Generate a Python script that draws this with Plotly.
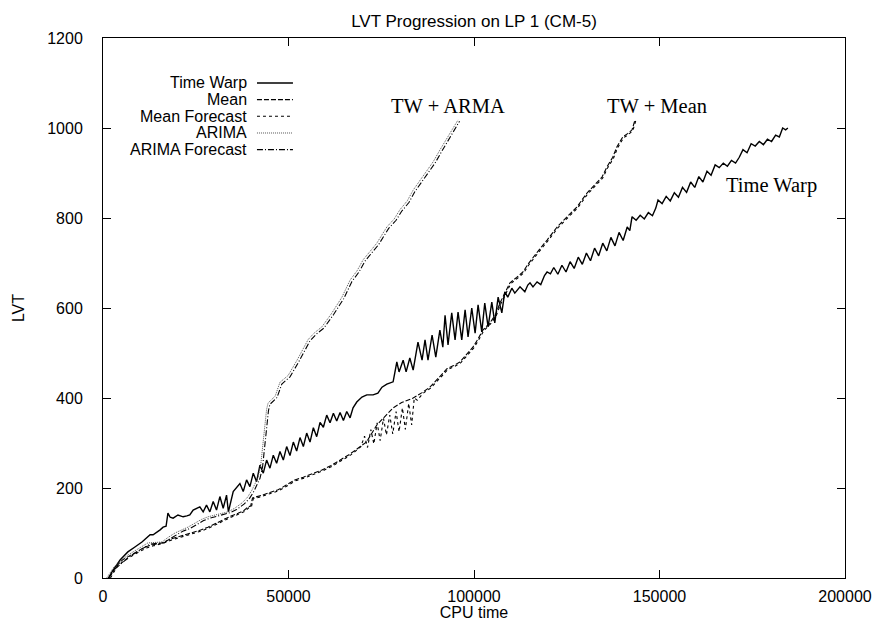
import plotly.graph_objects as go

# ---------------- data ----------------
tw_x = [1500, 2500, 4600, 6700, 8600, 10500, 12700, 13500, 15400, 16200, 17000, 17500, 18100, 18900,
        20200, 21600, 22600, 23400, 24300, 26100, 27000, 27900, 28800, 29700, 30600, 31500, 32400,
        33300, 33800, 35100, 36900, 37800, 38700, 39600, 40500, 41400, 42300, 43200, 44100, 45000,
        45900, 46800, 47700, 48600, 49500, 50400, 51300, 52200, 53100, 54000, 54900, 55800, 56700,
        57600, 58500, 59400, 60300, 61200, 62100, 63000, 63900, 64800, 65700, 66600, 67400, 68400,
        69800, 71100, 72800, 74100, 75200, 76500, 78200, 79200, 79800, 80900, 81700, 82700, 83600,
        84900, 86000, 86800, 87600, 88700, 89700, 90800, 91600, 92200, 93000, 94000, 94900, 95700,
        96700, 97600, 98400, 99400, 100300, 101100, 102100, 102900, 103800, 104800, 105600, 106500,
        107500, 108300, 109100, 110200, 111000, 112400, 113700, 114500, 115100, 115900, 117000,
        118000, 119000, 119700, 120600, 121500, 122600, 123700, 124800, 125900, 127000, 128100,
        129200, 130300, 131400, 132500, 133600, 134700, 135800, 136900, 138000, 139100, 140200,
        141300, 142000, 142600, 143700, 144800, 145900, 147000, 148100, 149000, 149600, 150700,
        151800, 152900, 154000, 155100, 156200, 157300, 158400, 159500, 160600, 161700, 162800,
        163900, 165000, 166100, 167200, 168300, 169400, 170500, 171500, 172500, 173600, 174700,
        175800, 176900, 178000, 179100, 180200, 181300, 182300, 183200, 184000, 184600]
tw_y = [0, 15, 40, 58, 69, 80, 96, 96, 107, 113, 115, 144, 135, 133,
        140, 136, 138, 140, 151, 158, 147, 162, 147, 170, 151, 181, 155,
        184, 147, 192, 210, 192, 218, 203, 233, 214, 251, 233, 262, 244,
        273, 255, 281, 262, 292, 272, 302, 282, 312, 292, 322, 302, 334,
        314, 346, 335, 362, 345, 366, 349, 368, 350, 370, 356, 378, 391,
        402, 407, 407, 411, 424, 431, 436, 480, 458, 484, 458, 489, 462,
        524, 484, 529, 484, 540, 491, 551, 513, 584, 518, 589, 529, 591,
        529, 596, 536, 600, 544, 607, 547, 611, 558, 613, 567, 624,
        589, 636, 624, 644, 633, 647, 636, 651, 656, 647, 658,
        652, 672, 680, 676, 690, 675, 695, 680, 703, 688, 713,
        697, 722, 705, 733, 716, 744, 727, 757, 738, 768, 750,
        780, 772, 803, 795, 806, 798, 812, 805, 822, 840, 832,
        848, 838, 856, 846, 868, 857, 880, 868, 892, 880, 904,
        895, 918, 912, 922, 915, 928, 922, 935, 952, 945, 965,
        960, 970, 963, 975, 970, 984, 980, 1000, 996, 1000]

mean_x = [1500, 3500, 5200, 6700, 9000, 11300, 13500, 15900, 18000, 20200, 22500, 24800, 26500,
          28300, 30200, 32100, 34300, 36400, 38000, 39100, 39800, 40300, 41500, 42900, 45000,
          47200, 49500, 51700, 54000, 56500, 59000, 61500, 64000, 66500, 69000, 71000, 73800,
          76000, 78200, 80500, 83600, 86000, 88100, 90500, 92700, 94500, 96200, 98000, 99700,
          101000, 102400, 104300, 105800, 107000, 108500, 109700, 111500, 113200, 114500, 115900,
          117800, 119700, 121000, 122400, 125000, 127700, 130400, 132000, 134500, 135800, 137400,
          138500, 140100, 141500, 142600, 143400]
mean_y = [0, 25, 40, 47, 58, 69, 74, 78, 86, 91, 97, 102, 107,
          113, 121, 129, 137, 144, 150, 158, 160, 178, 180, 184, 190,
          196, 207, 218, 224, 232, 240, 250, 262, 275, 290, 302, 340,
          360, 378, 390, 400, 412, 424, 445, 465, 472, 480, 497, 513,
          530, 551, 567, 585, 611, 635, 656, 668, 680, 697, 713,
          732, 751, 765, 780, 802, 824, 855, 869, 891, 913, 935,
          958, 980, 988, 996, 1018]

mfc_x = [2000, 4000, 6900, 9200, 11500, 13800, 16100, 18300, 20400, 22700, 25000, 26700,
         28500, 30400, 32300, 34500, 36600, 38200, 39300, 40000, 40500, 41700, 43100, 45200,
         47400, 49700, 51900, 54200, 56700, 59200, 61700, 64200, 66700, 68500, 69500, 70500,
         71300, 72200, 73000, 73900, 74700, 75600, 76400, 77300, 78100, 79000, 79800, 80700,
         81500, 82400, 83200, 83900, 84700, 86200, 88300, 90700, 92900, 94700, 96400, 98200,
         99900, 101200, 102600, 104500, 106000, 107200, 108700, 109900, 111700, 113400, 114700,
         116100, 118000, 119900, 121200, 122600, 125200, 127900, 130600, 132200, 134700, 136000,
         137600, 138700, 140300, 141700, 142800, 143600]
mfc_y = [0, 28, 45, 56, 66, 72, 77, 84, 89, 95, 100, 105,
         111, 119, 127, 135, 142, 148, 156, 158, 176, 178, 182, 188,
         194, 205, 216, 222, 230, 238, 248, 260, 273, 285, 292, 315,
         290, 330, 298, 345, 305, 355, 318, 362, 320, 370, 325, 378,
         330, 388, 340, 400, 395, 410, 422, 443, 463, 470, 478, 495,
         511, 528, 549, 565, 583, 609, 633, 654, 666, 678, 695,
         711, 730, 749, 763, 778, 800, 822, 853, 867, 889, 911,
         933, 956, 978, 986, 994, 1016]

ar_x = [1000, 3000, 6700, 9500, 12100, 14000, 15900, 17500, 19400, 21000, 22900, 24800, 26500,
        28300, 30200, 32100, 33700, 35500, 37500, 39000, 40200, 41000, 41800, 42500, 43000,
        43400, 43700, 44100, 44500, 45500, 46400, 47700, 49900, 52300, 55300, 57000, 59000,
        61700, 63000, 64400, 66600, 68500, 70100, 72000, 73800, 76500, 78500, 80000, 82000,
        83600, 85500, 87300, 89000, 90800, 92000, 93500, 94700, 95700]
ar_y = [0, 25, 51, 65, 78, 79, 80, 90, 100, 106, 113, 122, 130,
        136, 140, 144, 147, 155, 167, 180, 196, 210, 224, 250, 290,
        330, 351, 375, 389, 398, 404, 435, 450, 484, 530, 545, 558,
        589, 605, 624, 662, 683, 707, 725, 744, 780, 798, 818, 838,
        862, 885, 907, 925, 951, 968, 989, 1005, 1018]

af_x = [1500, 3500, 7200, 10000, 12600, 14500, 16400, 18000, 19900, 21500, 23400, 25300, 27000,
        28800, 30700, 32600, 34200, 36000, 38000, 39500, 40700, 41500, 42300, 43000, 43500,
        43900, 44200, 44600, 45000, 46000, 46900, 48200, 50400, 52800, 55800, 57500, 59500,
        62200, 63500, 64900, 67100, 69000, 70600, 72500, 74300, 77000, 79000, 80500, 82500,
        84100, 86000, 87800, 89500, 91300, 92500, 94000, 95200, 96100]
af_y = [0, 22, 48, 62, 75, 77, 78, 87, 97, 104, 110, 119, 127,
        133, 137, 141, 145, 152, 164, 177, 193, 207, 221, 246, 286,
        326, 348, 372, 386, 395, 401, 431, 447, 481, 527, 542, 555,
        586, 602, 621, 659, 680, 704, 722, 741, 777, 795, 815, 835,
        859, 882, 904, 922, 948, 965, 986, 1002, 1015]

x_ticks = [0, 50000, 100000, 150000, 200000]
x_tick_text = ["0", "50000", "100000", "150000", "200000"]
y_ticks = [0, 200, 400, 600, 800, 1000, 1200]
y_tick_text = ["0", "200", "400", "600", "800", "1000", "1200"]

legend_names = ["Time Warp", "Mean", "Mean Forecast", "ARIMA", "ARIMA Forecast"]
labels = ["TW + ARMA", "TW + Mean", "Time Warp"]
label_x = [93000, 149300, 180300]
label_y = [1049, 1049, 873]

# ---------------- styles ----------------
styles = [
    dict(color="black", width=1.4, dash="solid"),
    dict(color="black", width=1.1, dash="5px,2px"),
    dict(color="black", width=1.1, dash="3px,3px"),
    dict(color="#555555", width=1.0, dash="1px,1px"),
    dict(color="black", width=1.1, dash="6px,2px,1px,2px"),
]
series = [(tw_x, tw_y), (mean_x, mean_y), (mfc_x, mfc_y), (ar_x, ar_y), (af_x, af_y)]

fig = go.Figure()
for (sx, sy), name, st in zip(series, legend_names, styles):
    fig.add_trace(go.Scatter(x=sx, y=sy, mode="lines", name=name, line=st,
                             showlegend=False, hoverinfo="skip"))

# custom legend (text right-aligned, sample line to the right, gnuplot style)
row_y = [0.9167, 0.8858, 0.855, 0.8241, 0.7933]
for name, st, ry in zip(legend_names, styles, row_y):
    fig.add_annotation(x=0.1954, y=ry, xref="paper", yref="paper", text=name,
                       showarrow=False, xanchor="right", yanchor="middle", borderpad=0,
                       font=dict(family="Liberation Sans, Arial", size=16, color="black"))
    fig.add_shape(type="line", xref="paper", yref="paper", x0=0.2075, x1=0.256,
                  y0=ry, y1=ry, line=st)

for t, lx, ly in zip(labels, label_x, label_y):
    fig.add_annotation(x=lx, y=ly, text=t, showarrow=False, xanchor="center", yanchor="middle",
                       font=dict(family="Liberation Serif, Times New Roman", size=20.5, color="black"))

axis_common = dict(showline=True, linecolor="black", linewidth=1, mirror="ticks",
                   ticks="inside", ticklen=8, tickcolor="black", tickwidth=1,
                   showgrid=False, zeroline=False, automargin=False,
                   tickfont=dict(family="Liberation Sans, Arial", size=16, color="black"))

fig.update_xaxes(range=[0, 200000], tickmode="array", tickvals=x_ticks, ticktext=x_tick_text,
                 title=dict(text="CPU time", standoff=2,
                            font=dict(family="Liberation Sans, Arial", size=16, color="black")),
                 ticklabelstandoff=4, **axis_common)
fig.update_yaxes(range=[0, 1200], tickmode="array", tickvals=y_ticks, ticktext=y_tick_text,
                 title=dict(text="LVT", standoff=18,
                            font=dict(family="Liberation Sans, Arial", size=16, color="black")),
                 ticklabelstandoff=16, **axis_common)

fig.update_layout(
    width=874, height=621,
    margin=dict(l=103, r=29, t=38, b=43, autoexpand=False),
    paper_bgcolor="white", plot_bgcolor="white",
    showlegend=False,
    font=dict(family="Liberation Sans, Arial", size=16, color="black"),
    title=dict(text="LVT Progression on LP 1 (CM-5)", x=0.5, xref="paper", xanchor="center",
               y=1 - 21 / 621, yref="container", yanchor="middle",
               font=dict(family="Liberation Sans, Arial", size=17, color="black")),
)

fig.write_html("out.html")
